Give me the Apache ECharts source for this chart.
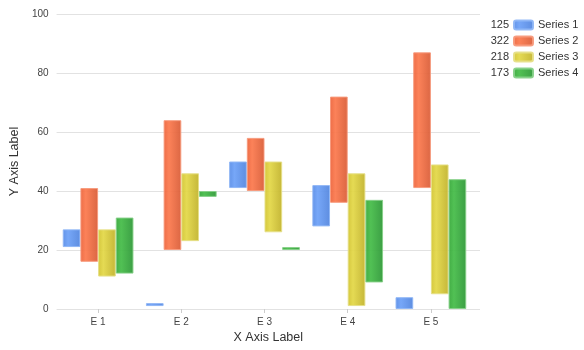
<!DOCTYPE html>
<html>
<head>
<meta charset="utf-8">
<script src="https://cdn.jsdelivr.net/npm/echarts@6/dist/echarts.min.js"></script>
<style>html,body{margin:0;padding:0;background:#fff}#c{width:584px;height:350px}</style>
</head>
<body>
<div id="c"></div>
<script>
var categories = ['E 1', 'E 2', 'E 3', 'E 4', 'E 5'];
var seriesNames = ['Series 1', 'Series 2', 'Series 3', 'Series 4'];
var s1Low = [21, 1, 41, 28, 0];
var s1High = [27, 2, 50, 42, 4];
var s2Low = [16, 20, 40, 36, 41];
var s2High = [41, 64, 58, 72, 87];
var s3Low = [11, 23, 26, 1, 5];
var s3High = [27, 46, 50, 46, 49];
var s4Low = [12, 38, 20, 9, 0];
var s4High = [31, 40, 21, 37, 44];
var yTicks = [0, 20, 40, 60, 80, 100];

var lows = [s1Low, s2Low, s3Low, s4Low];
var highs = [s1High, s2High, s3High, s4High];
var palette = [
  ['#5a8de6', '#6fa2f7', '#5587de', '#8fb6f5'],
  ['#ec653d', '#fb7b50', '#d95e39', '#f79a7c'],
  ['#d2c433', '#e3d84a', '#c2b32e', '#e6df87'],
  ['#38a83b', '#48bd4b', '#31993a', '#86d088']
];
var totals = highs.map(function (h) { return h.reduce(function (a, b) { return a + b; }, 0); });

function grad(p) {
  return new echarts.graphic.LinearGradient(0, 0, 1, 0, [
    { offset: 0, color: p[0] },
    { offset: 0.3, color: p[1] },
    { offset: 1, color: p[2] }
  ]);
}

var series = [];
seriesNames.forEach(function (name, i) {
  series.push({
    name: 'base' + i, type: 'bar', stack: 'st' + i, xAxisIndex: 1, yAxisIndex: 1,
    data: lows[i], itemStyle: { color: 'transparent' }, silent: true,
    barGap: '0%', barCategoryGap: '15%'
  });
  series.push({
    name: name, type: 'bar', stack: 'st' + i, xAxisIndex: 1, yAxisIndex: 1,
    data: highs[i].map(function (v, k) { return v - lows[i][k]; }),
    itemStyle: { color: grad(palette[i]), borderColor: palette[i][3], borderWidth: 1, opacity: 0.95 },
    barGap: '0%', barCategoryGap: '15%'
  });
});

var font = 'Liberation Sans, Arial, sans-serif';
var legendCommon = {
  orient: 'vertical', top: 13, itemGap: 2, itemWidth: 19, itemHeight: 9,
  icon: 'roundRect', data: seriesNames,
  textStyle: { fontSize: 11, color: '#333', fontFamily: font, lineHeight: 14 }
};

var chart = echarts.init(document.getElementById('c'));
chart.setOption({
  animation: false,
  color: palette.map(function (p) { return p[0]; }),
  grid: [
    { left: 50, right: 104, top: 14, bottom: 41 },
    { left: 56.5, right: 111.5, top: 14, bottom: 41 }
  ],
  legend: [
    Object.assign({}, legendCommon, { left: 508, align: 'left' }),
    Object.assign({}, legendCommon, {
      right: 45, align: 'right',
      itemStyle: { opacity: 0 },
      formatter: function (n) { return String(totals[seriesNames.indexOf(n)]); }
    })
  ],
  xAxis: [
    {
      gridIndex: 0, type: 'category', data: categories,
      axisLine: { show: false }, axisTick: { show: false }, axisLabel: { show: false },
      name: 'X Axis Label', nameLocation: 'middle', nameGap: 22,
      nameTextStyle: { fontSize: 12.5, color: '#333', fontFamily: font }
    },
    {
      gridIndex: 1, type: 'category', data: categories,
      axisLine: { show: false },
      axisTick: { show: true, alignWithLabel: true, length: 4, lineStyle: { color: '#ccc' } },
      axisLabel: { fontSize: 10, color: '#444', margin: 8, fontFamily: font }
    }
  ],
  yAxis: [
    {
      gridIndex: 0, type: 'value', min: yTicks[0], max: yTicks[yTicks.length - 1], interval: 20,
      axisLine: { show: false }, axisTick: { show: false },
      axisLabel: { fontSize: 10, color: '#444', margin: 8, fontFamily: font },
      splitLine: { lineStyle: { color: '#e2e2e2' } },
      name: 'Y Axis Label', nameLocation: 'middle', nameGap: 25,
      nameTextStyle: { fontSize: 12.5, color: '#333', fontFamily: font }
    },
    {
      gridIndex: 1, type: 'value', min: yTicks[0], max: yTicks[yTicks.length - 1], interval: 20,
      show: false, splitLine: { show: false }
    }
  ],
  series: series
});
</script>
</body>
</html>
